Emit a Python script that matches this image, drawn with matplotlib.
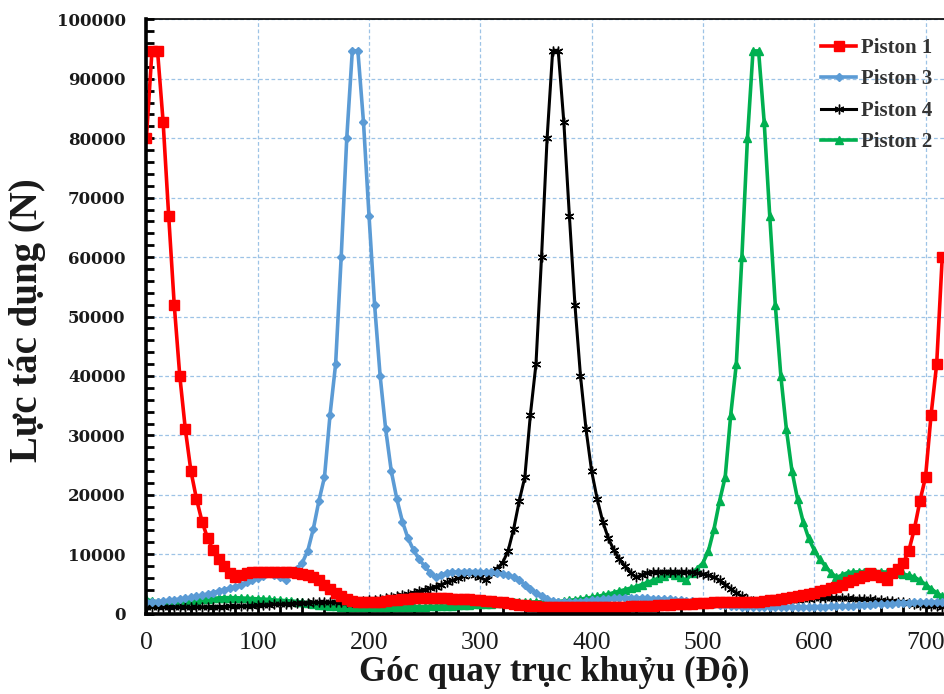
import matplotlib
matplotlib.use("Agg")
import matplotlib.pyplot as plt
from matplotlib.ticker import MultipleLocator, FuncFormatter

angles = list(range(0, 720, 5))

piston1 = [
    80000, 94700, 94700, 82800, 67000, 52000, 40000, 31000, 24000, 19300, 15500, 12700,
    10700, 9150, 8000, 6900, 6100, 6500, 6900, 7000, 7050, 7100, 7100, 7100,
    7050, 7000, 6950, 6800, 6650, 6450, 6150, 5600, 4900, 4200, 3500, 2900,
    2400, 2150, 2000, 1950, 1950, 2000, 2050, 2150, 2250, 2350, 2450, 2550,
    2600, 2650, 2700, 2700, 2700, 2650, 2600, 2550, 2500, 2450, 2400, 2300,
    2250, 2200, 2150, 2050, 1950, 1800, 1650, 1500, 1400, 1300, 1250, 1200,
    1150, 1150, 1100, 1100, 1100, 1100, 1100, 1100, 1100, 1150, 1150, 1150,
    1200, 1200, 1200, 1250, 1250, 1300, 1300, 1350, 1400, 1450, 1500, 1550,
    1600, 1650, 1700, 1750, 1800, 1850, 1900, 1900, 1950, 1950, 2000, 2000,
    2000, 2050, 2050, 2150, 2250, 2350, 2450, 2600, 2750, 2900, 3100, 3300,
    3550, 3800, 4050, 4300, 4550, 4900, 5250, 5600, 5950, 6400, 6900, 6500,
    6100, 5600, 6900, 7600, 8550, 10600, 14300, 19000, 23000, 33500, 42000, 60000,
]

piston3 = [
    2000, 2050, 2050, 2150, 2250, 2350, 2450, 2600, 2750, 2900, 3100, 3300,
    3550, 3800, 4050, 4300, 4550, 4900, 5250, 5600, 5950, 6400, 6900, 6500,
    6100, 5600, 6900, 7600, 8550, 10600, 14300, 19000, 23000, 33500, 42000, 60000,
    80000, 94700, 94700, 82800, 67000, 52000, 40000, 31000, 24000, 19300, 15500, 12700,
    10700, 9150, 8000, 6900, 6100, 6500, 6900, 7000, 7050, 7100, 7100, 7100,
    7050, 7000, 6950, 6800, 6650, 6450, 6150, 5600, 4900, 4200, 3500, 2900,
    2400, 2150, 2000, 1950, 1950, 2000, 2050, 2150, 2250, 2350, 2450, 2550,
    2600, 2650, 2700, 2700, 2700, 2650, 2600, 2550, 2500, 2450, 2400, 2300,
    2250, 2200, 2150, 2050, 1950, 1800, 1650, 1500, 1400, 1300, 1250, 1200,
    1150, 1150, 1100, 1100, 1100, 1100, 1100, 1100, 1100, 1150, 1150, 1150,
    1200, 1200, 1200, 1250, 1250, 1300, 1300, 1350, 1400, 1450, 1500, 1550,
    1600, 1650, 1700, 1750, 1800, 1850, 1900, 1900, 1950, 1950, 2000, 2000,
]

piston4 = [
    1150, 1150, 1100, 1100, 1100, 1100, 1100, 1100, 1100, 1150, 1150, 1150,
    1200, 1200, 1200, 1250, 1250, 1300, 1300, 1350, 1400, 1450, 1500, 1550,
    1600, 1650, 1700, 1750, 1800, 1850, 1900, 1900, 1950, 1950, 2000, 2000,
    2000, 2050, 2050, 2150, 2250, 2350, 2450, 2600, 2750, 2900, 3100, 3300,
    3550, 3800, 4050, 4300, 4550, 4900, 5250, 5600, 5950, 6400, 6900, 6500,
    6100, 5600, 6900, 7600, 8550, 10600, 14300, 19000, 23000, 33500, 42000, 60000,
    80000, 94700, 94700, 82800, 67000, 52000, 40000, 31000, 24000, 19300, 15500, 12700,
    10700, 9150, 8000, 6900, 6100, 6500, 6900, 7000, 7050, 7100, 7100, 7100,
    7050, 7000, 6950, 6800, 6650, 6450, 6150, 5600, 4900, 4200, 3500, 2900,
    2400, 2150, 2000, 1950, 1950, 2000, 2050, 2150, 2250, 2350, 2450, 2550,
    2600, 2650, 2700, 2700, 2700, 2650, 2600, 2550, 2500, 2450, 2400, 2300,
    2250, 2200, 2150, 2050, 1950, 1800, 1650, 1500, 1400, 1300, 1250, 1200,
]

piston2 = [
    2400, 2150, 2000, 1950, 1950, 2000, 2050, 2150, 2250, 2350, 2450, 2550,
    2600, 2650, 2700, 2700, 2700, 2650, 2600, 2550, 2500, 2450, 2400, 2300,
    2250, 2200, 2150, 2050, 1950, 1800, 1650, 1500, 1400, 1300, 1250, 1200,
    1150, 1150, 1100, 1100, 1100, 1100, 1100, 1100, 1100, 1150, 1150, 1150,
    1200, 1200, 1200, 1250, 1250, 1300, 1300, 1350, 1400, 1450, 1500, 1550,
    1600, 1650, 1700, 1750, 1800, 1850, 1900, 1900, 1950, 1950, 2000, 2000,
    2000, 2050, 2050, 2150, 2250, 2350, 2450, 2600, 2750, 2900, 3100, 3300,
    3550, 3800, 4050, 4300, 4550, 4900, 5250, 5600, 5950, 6400, 6900, 6500,
    6100, 5600, 6900, 7600, 8550, 10600, 14300, 19000, 23000, 33500, 42000, 60000,
    80000, 94700, 94700, 82800, 67000, 52000, 40000, 31000, 24000, 19300, 15500, 12700,
    10700, 9150, 8000, 6900, 6100, 6500, 6900, 7000, 7050, 7100, 7100, 7100,
    7050, 7000, 6950, 6800, 6650, 6450, 6150, 5600, 4900, 4200, 3500, 2900,
]

series_names = ["Piston 1", "Piston 3", "Piston 4", "Piston 2"]
x_ticks = [0, 100, 200, 300, 400, 500, 600, 700]
y_ticks = [0, 10000, 20000, 30000, 40000, 50000, 60000, 70000, 80000, 90000, 100000]

serif = "Liberation Serif"

fig = plt.figure(figsize=(9.44, 6.94), dpi=100)
ax = fig.add_axes([146.4 / 944, 1 - 613.7 / 694, (947.8 - 146.4) / 944, (613.7 - 19.4) / 694])

styles = [
    dict(color="#FF0000", marker="s", markersize=6.5, lw=2.6),
    dict(color="#5B9BD5", marker="D", markersize=3.6, lw=2.6),
    dict(color="#000000", marker=(6, 2, 0), markersize=7, lw=2.2, markeredgewidth=1.0),
    dict(color="#00B050", marker="^", markersize=5.5, lw=2.6),
]
data = [piston1, piston3, piston4, piston2]
order = [3, 2, 1, 0]
lines = {}
for i in order:
    ln, = ax.plot(angles, data[i], label=series_names[i], **styles[i])
    lines[i] = ln

ax.set_xlim(0, 720)
ax.set_ylim(0, 100000)
ax.set_xticks(x_ticks)
ax.set_yticks(y_ticks)
ax.xaxis.set_minor_locator(MultipleLocator(20))
ax.yaxis.set_minor_locator(MultipleLocator(2000))

ax.grid(True, which="major", color="#9DC3E6", linestyle=(0, (3, 2)), linewidth=0.9)
ax.set_axisbelow(True)

for side in ["left", "bottom"]:
    ax.spines[side].set_linewidth(2.6)
ax.spines["top"].set_linewidth(1.2)
ax.spines["right"].set_linewidth(1.2)

ax.tick_params(axis="both", which="both", direction="in", width=2.0, color="black", length=6)
ax.tick_params(axis="x", pad=13)
ax.tick_params(axis="y", pad=15)

ax.xaxis.set_major_formatter(FuncFormatter(lambda v, p: f"{int(v)}"))
ax.yaxis.set_major_formatter(FuncFormatter(lambda v, p: f"{int(v)}"))
for lab in ax.get_xticklabels():
    lab.set_fontfamily(serif)
    lab.set_fontsize(18.5)
    lab.set_color("#1a1a1a")
for lab in ax.get_yticklabels():
    lab.set_fontfamily("DejaVu Serif")
    lab.set_fontweight("bold")
    lab.set_fontsize(12)
    lab.set_color("#1a1a1a")

fig.text(554 / 944, 1 - 672 / 694, "Góc quay trục khuỷu (Độ)", ha="center", va="center",
         fontfamily=serif, fontweight="bold", fontsize=25, color="#1a1a1a")
fig.text(28 / 944, 1 - 320 / 694, "Lực tác dụng (N)", ha="center", va="center", rotation=90,
         fontfamily=serif, fontweight="bold", fontsize=28, color="#1a1a1a")

handles = [lines[0], lines[1], lines[2], lines[3]]
leg = fig.legend(handles, series_names, loc="upper left", bbox_to_anchor=(821 / 944, 1 - 38 / 694),
                 frameon=False, prop=dict(family=serif, weight="bold", size=15),
                 handlelength=1.7, handletextpad=0.2, labelspacing=0.55, borderaxespad=0,
                 borderpad=0)
for t in leg.get_texts():
    t.set_color("#333333")

fig.savefig("out.png", dpi=100)
